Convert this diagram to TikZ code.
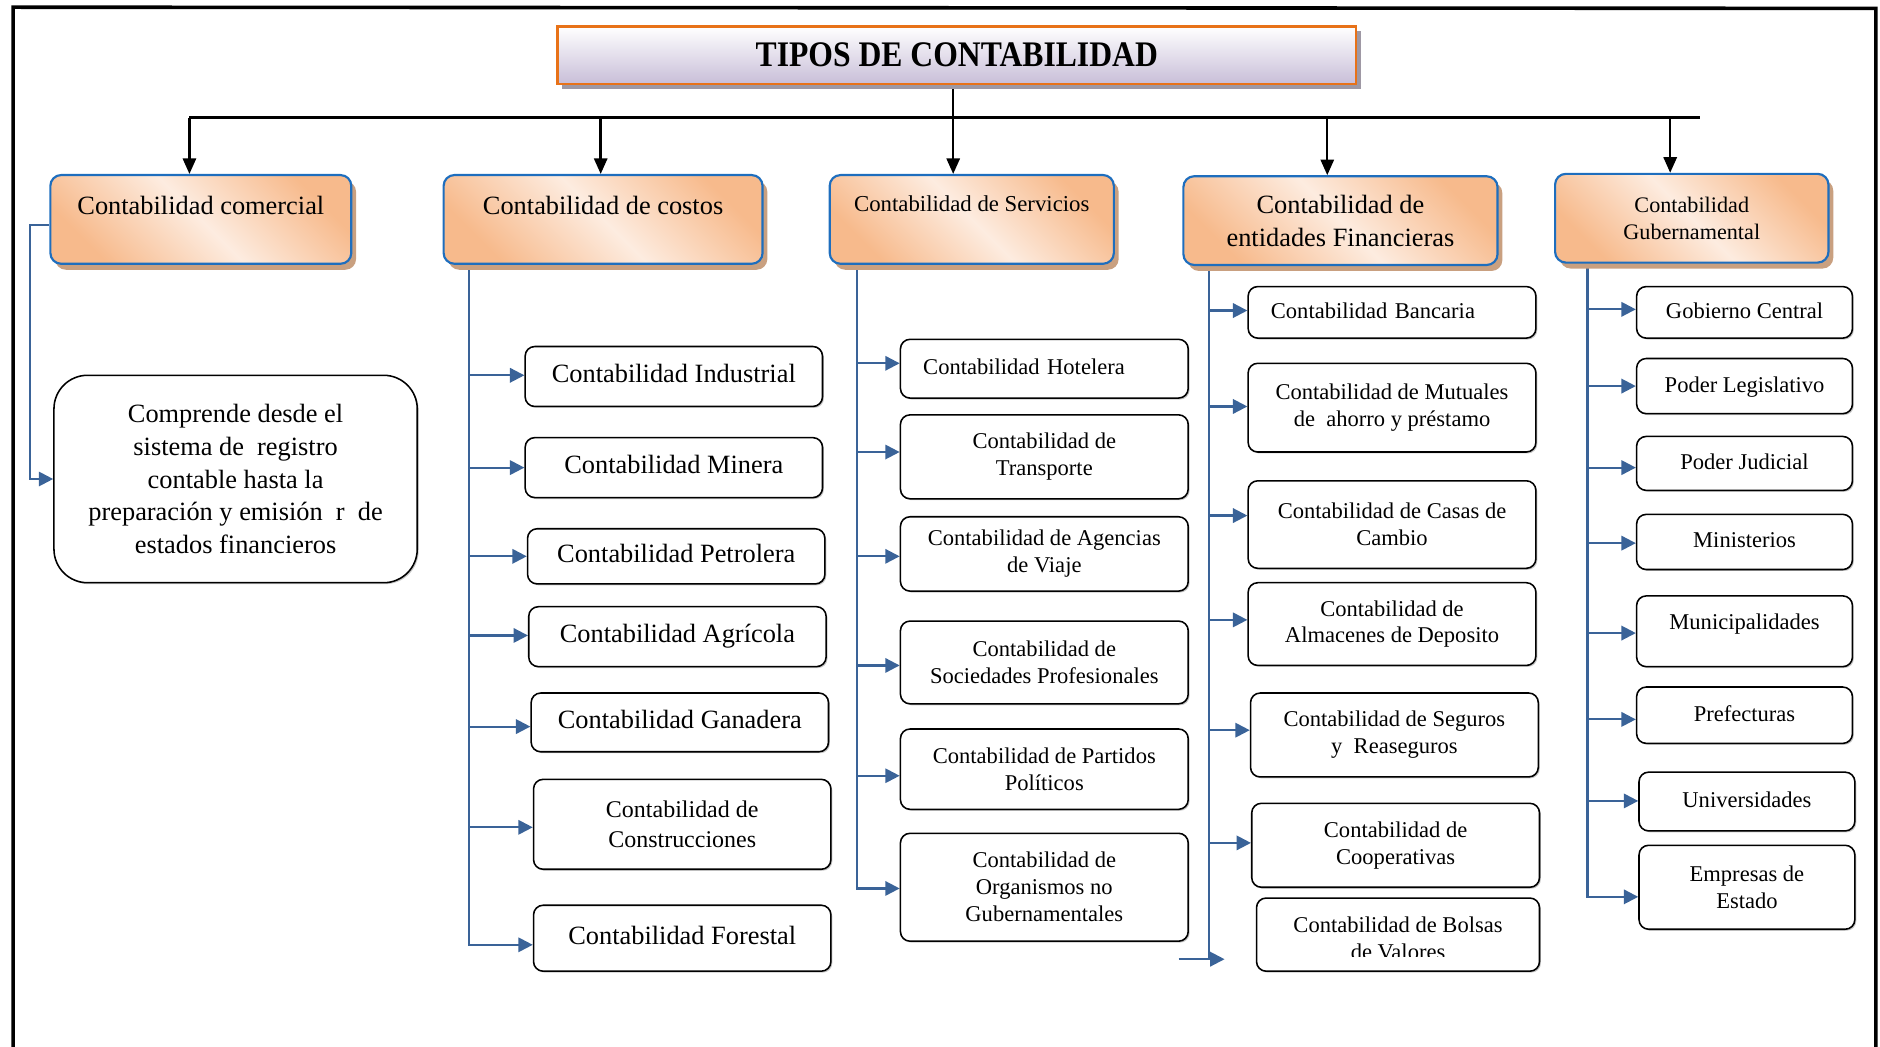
\documentclass[tikz,border=0pt]{standalone}
\usepackage{fontspec}
\setmainfont{Liberation Serif}
\usetikzlibrary{arrows.meta,shadows,backgrounds}

\definecolor{hdrblue}{RGB}{30,110,190}
\definecolor{linkblue}{RGB}{58,99,152}
\definecolor{peachdark}{RGB}{247,186,140}
\definecolor{peachlight}{RGB}{253,236,224}
\definecolor{hdrshade}{RGB}{201,160,128}
\definecolor{ttlorange}{RGB}{232,114,24}
\definecolor{ttllav}{RGB}{200,190,216}
\definecolor{ttlshade}{RGB}{158,152,164}

\tikzset{
  ftitle/.style={font=\fontsize{30}{34}\selectfont\bfseries},
  fbig/.style={font=\fontsize{22}{27.5}\selectfont},
  fmid/.style={font=\fontsize{20}{25}\selectfont},
  fsmall/.style={font=\fontsize{18.8}{22.5}\selectfont},
  fhdrsmall/.style={font=\fontsize{18.5}{23}\selectfont},
  titlebox/.style={draw=ttlorange, line width=2pt, inner sep=0pt,
    top color=white, bottom color=ttllav,
    drop shadow={shadow xshift=4pt, shadow yshift=-4pt, fill=ttlshade, opacity=1}},
  hdr/.style={draw=hdrblue, line width=1.8pt, rounded corners=9pt, inner sep=0pt,
    minimum height=74pt, align=center,
    top color=peachdark, bottom color=peachdark, middle color=peachlight,
    shading angle=-45,
    drop shadow={shadow xshift=4pt, shadow yshift=-5pt, fill=hdrshade, opacity=1}},
  itembox/.style={draw=black, line width=1.3pt, rounded corners=8pt, fill=white,
    inner sep=0pt, align=center,
    drop shadow={shadow xshift=1.2pt, shadow yshift=-1.2pt, fill=black!45, opacity=0.5}},
  oneline/.style={text height=1em, text depth=0em},
  kline/.style={draw=black, line width=2pt},
  karrow/.style={kline, -{Triangle[length=13pt,width=11pt]}},
  bline/.style={draw=linkblue, line width=1.8pt},
  barrow/.style={bline, -{Triangle[length=12pt,width=12pt]}},
}

\begin{document}
\begin{tikzpicture}[x=1pt,y=-1pt]
\useasboundingbox (0,0) rectangle (1568,873);

% page frame
\draw[line width=3pt] (11,874) -- (11,6) -- (1564.5,7) -- (1564.5,874);

% title
\node[titlebox, ftitle, minimum width=666pt, minimum height=48pt] (title) at (798,46) {\scalebox{0.88}[1]{TIPOS DE CONTABILIDAD}};

% main branches
\node[hdr, fbig, minimum width=251pt, text height=32.6pt, text depth=41.4pt] (comercial) at (167.5,183) {Contabilidad comercial};
\node[hdr, fbig, minimum width=266pt, text height=32.6pt, text depth=41.4pt] (costos) at (503,183) {Contabilidad de costos};
\node[hdr, font=\fontsize{19}{23}\selectfont, minimum width=237pt, text height=30.5pt, text depth=43.5pt] (servicios) at (810.5,183) {Contabilidad de Servicios};
\node[hdr, fbig, minimum width=262pt] (financieras) at (1118,184) {Contabilidad de\\entidades Financieras};
\node[hdr, fhdrsmall, minimum width=228pt] (gubern) at (1411,182) {Contabilidad\\Gubernamental};

% comercial
\node[itembox, fbig, rounded corners=28pt, minimum width=303pt, minimum height=173pt] (desc) at (196.5,399.5)
  {Comprende desde el\\sistema de~~registro\\contable hasta la\\preparación y emisión~~r~~de\\estados financieros};

% costos
\node[itembox, fbig, oneline, minimum width=248pt, minimum height=50pt] (industrial) at (562,314) {Contabilidad Industrial};
\node[itembox, fbig, oneline, minimum width=248pt, minimum height=50pt] (minera) at (562,390) {Contabilidad Minera};
\node[itembox, fbig, oneline, minimum width=248pt, minimum height=46pt] (petrolera) at (564,464) {Contabilidad Petrolera};
\node[itembox, fbig, oneline, minimum width=248pt, minimum height=50pt] (agricola) at (565,531) {Contabilidad Agrícola};
\node[itembox, fbig, oneline, minimum width=248pt, minimum height=49pt] (ganadera) at (567,602.5) {Contabilidad Ganadera};
\node[itembox, fmid, minimum width=248pt, minimum height=75pt] (construcciones) at (569,687.5) {Contabilidad de\\Construcciones};
\node[itembox, fbig, oneline, minimum width=248pt, minimum height=55pt] (forestal) at (569,782.5) {Contabilidad Forestal};

% servicios
\node[itembox, fsmall, oneline, minimum width=240pt, minimum height=49pt, align=left, text width=202pt, inner xsep=19pt] (hotelera) at (871,307.5) {Contabilidad Hotelera};
\node[itembox, fsmall, minimum width=240pt, minimum height=70pt] (transporte) at (871,381) {Contabilidad de\\Transporte};
\node[itembox, fsmall, minimum width=240pt, minimum height=62pt] (agencias) at (871,462) {Contabilidad de Agencias\\de Viaje};
\node[itembox, fsmall, minimum width=240pt, minimum height=69pt] (sociedades) at (871,552.5) {Contabilidad de\\Sociedades Profesionales};
\node[itembox, fsmall, minimum width=240pt, minimum height=67pt] (partidos) at (871,641.5) {Contabilidad de Partidos\\Políticos};
\node[itembox, fsmall, minimum width=240pt, minimum height=90pt] (organismos) at (871,740) {Contabilidad de\\Organismos no\\Gubernamentales};

% entidades financieras
\node[itembox, fsmall, oneline, minimum width=240pt, minimum height=43pt, align=left, text width=202pt, inner xsep=19pt] (bancaria) at (1161,260.5) {Contabilidad Bancaria};
\node[itembox, fsmall, minimum width=240pt, minimum height=74pt] (mutuales) at (1161,340) {Contabilidad de Mutuales\\de~~ahorro y préstamo};
\node[itembox, fsmall, minimum width=240pt, minimum height=73pt] (casas) at (1161,437.5) {Contabilidad de Casas de\\Cambio};
\node[itembox, fsmall, minimum width=240pt, minimum height=69pt] (almacenes) at (1161,520.5) {Contabilidad de\\Almacenes de Deposito};
\node[itembox, fsmall, minimum width=240pt, minimum height=70pt] (seguros) at (1163,613) {Contabilidad de Seguros\\y~~Reaseguros};
\node[itembox, fsmall, minimum width=240pt, minimum height=70pt] (cooperativas) at (1164,705) {Contabilidad de\\Cooperativas};
\node[itembox, minimum width=236pt, minimum height=61pt,
  path picture={
    \clip ([yshift=12.5pt]path picture bounding box.south west) rectangle (path picture bounding box.north east);
    \node[fsmall, align=center, inner sep=0pt] at ([yshift=-3pt]path picture bounding box.center) {Contabilidad de Bolsas\\de Valores};
  }] (bolsas) at (1166,779.5) {};

% gubernamental
\node[itembox, fsmall, oneline, minimum width=180pt, minimum height=43pt] (gobierno) at (1455,260.5) {Gobierno Central};
\node[itembox, fsmall, oneline, minimum width=180pt, minimum height=46pt] (legislativo) at (1455,322) {Poder Legislativo};
\node[itembox, fsmall, oneline, minimum width=180pt, minimum height=45pt] (judicial) at (1455,386.5) {Poder Judicial};
\node[itembox, fsmall, oneline, minimum width=180pt, minimum height=46pt] (ministerios) at (1455,452) {Ministerios};
\node[itembox, fsmall, minimum width=180pt, minimum height=59pt, text height=28pt, text depth=31pt] (municipalidades) at (1455,526.5) {Municipalidades};
\node[itembox, fsmall, oneline, minimum width=180pt, minimum height=47pt] (prefecturas) at (1455,596.5) {Prefecturas};
\node[itembox, fsmall, oneline, minimum width=180pt, minimum height=49pt] (universidades) at (1457,668.5) {Universidades};
\node[itembox, fsmall, minimum width=180pt, minimum height=70pt] (empresas) at (1457,740) {Empresas de\\Estado};

% connectors
\begin{scope}[on background layer]
  % black distribution bus
  \coordinate (b1) at (158,98);
  \coordinate (b2) at (501,98);
  \coordinate (b4) at (1107,98);
  \coordinate (b5) at (1393,98);
  \coordinate (bend) at (1418,98);
  \draw[kline] (b1) -- (bend);
  \draw[karrow] ([xshift=-3pt]title.south) -- ([xshift=-3pt]title.south |- servicios.north);
  \draw[karrow] (b1) -- (b1 |- comercial.north);
  \draw[karrow] (b2) -- (b2 |- costos.north);
  \draw[karrow] (b4) -- (b4 |- financieras.north);
  \draw[karrow] (b5) -- (b5 |- gubern.north);

  % comercial
  \coordinate (s1) at (25,188);
  \draw[barrow] ([yshift=-5pt]comercial.west) -- (s1) |- (desc.west);

  % costos
  \coordinate (s2) at (391,222);
  \draw[barrow] (s2) |- ([yshift=1pt]industrial.west);
  \draw[barrow] (s2) |- (minera.west);
  \draw[barrow] (s2) |- (petrolera.west);
  \draw[barrow] (s2) |- ([yshift=1pt]agricola.west);
  \draw[barrow] (s2) |- ([yshift=-3.5pt]ganadera.west);
  \draw[barrow] (s2) |- ([yshift=-2.5pt]construcciones.west);
  \draw[barrow] (s2) |- ([yshift=-5.5pt]forestal.west);

  % servicios
  \coordinate (s3) at (715,222);
  \draw[barrow] (s3) |- ([yshift=4.5pt]hotelera.west);
  \draw[barrow] (s3) |- ([yshift=4pt]transporte.west);
  \draw[barrow] (s3) |- ([yshift=-2pt]agencias.west);
  \draw[barrow] (s3) |- ([yshift=-2.5pt]sociedades.west);
  \draw[barrow] (s3) |- ([yshift=-5.5pt]partidos.west);
  \draw[barrow] (s3) |- ([yshift=-1pt]organismos.west);

  % entidades financieras
  \coordinate (s4) at (1008,222);
  \coordinate (t4) at (983,800);
  \draw[barrow] (s4) |- ([yshift=1.5pt]bancaria.west);
  \draw[barrow] (s4) |- ([yshift=1pt]mutuales.west);
  \draw[barrow] (s4) |- ([yshift=7.5pt]casas.west);
  \draw[barrow] (s4) |- ([yshift=3.5pt]almacenes.west);
  \draw[barrow] (s4) |- ([yshift=4pt]seguros.west);
  \draw[barrow] (s4) |- ([yshift=2pt]cooperativas.west);
  \draw[bline] (s4) -- (s4 |- t4);
  \draw[barrow, shorten >=26pt] (t4) -- (t4 -| bolsas.west);

  % gubernamental
  \coordinate (s5) at (1324,222);
  \draw[barrow] (s5) |- ([yshift=2.5pt]gobierno.west);
  \draw[barrow] (s5) |- (legislativo.west);
  \draw[barrow] (s5) |- ([yshift=-3.5pt]judicial.west);
  \draw[barrow] (s5) |- ([yshift=-1pt]ministerios.west);
  \draw[barrow] (s5) |- ([yshift=-1.5pt]municipalidades.west);
  \draw[barrow] (s5) |- ([yshift=-3.5pt]prefecturas.west);
  \draw[barrow] (s5) |- ([yshift=0.5pt]universidades.west);
  \draw[barrow] (s5) |- ([yshift=-8pt]empresas.west);
\end{scope}
\end{tikzpicture}
\end{document}
